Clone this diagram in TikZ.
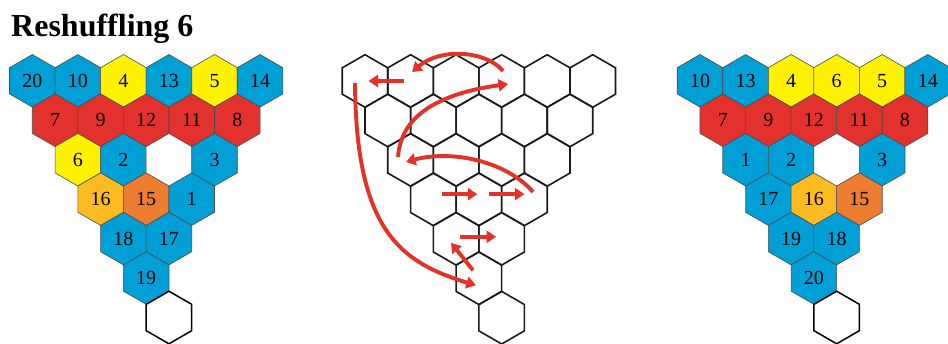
\documentclass[tikz,border=0pt]{standalone}
\usepackage{fontspec}
\setmainfont{Liberation Serif}
\usetikzlibrary{shapes.geometric,arrows.meta,calc}
\definecolor{hblue}{RGB}{0,160,215}
\definecolor{hyellow}{RGB}{255,242,0}
\definecolor{hred}{RGB}{227,50,45}
\definecolor{hgold}{RGB}{252,187,33}
\definecolor{horange}{RGB}{237,125,49}
\definecolor{arrowred}{RGB}{228,50,40}
\begin{document}
\begin{tikzpicture}[x=1pt,y=-1pt,
  hex/.style={regular polygon, regular polygon sides=6, shape border rotate=30,
    minimum size=52.6pt, inner sep=0pt, outer sep=0pt,
    font=\fontsize{20}{20}\selectfont},
  cell/.style={hex, fill=#1, draw=black!70, line width=0.6pt},
  blank/.style={hex, draw=black, line width=1.5pt},
  gridhex/.style={hex, draw=black!90, line width=1.6pt},
  mv/.style={draw=arrowred, line width=3.9pt, -{Triangle[length=9.5pt,width=12pt]}},
  title/.style={anchor=base west, inner sep=0pt, font=\bfseries\fontsize{32}{32}\selectfont}
]
\useasboundingbox (0,0) rectangle (948,343);

\node[title] (ttl) at (11,36.5) {Reshuffling 6};

% ---------- left panel ----------
\foreach \r/\c/\col/\t in {
  0/0/hblue/20, 0/1/hblue/10, 0/2/hyellow/4, 0/3/hblue/13, 0/4/hyellow/5, 0/5/hblue/14,
  1/0/hred/7, 1/1/hred/9, 1/2/hred/12, 1/3/hred/11, 1/4/hred/8,
  2/0/hyellow/6, 2/1/hblue/2, 2/3/hblue/3,
  3/0/hgold/16, 3/1/horange/15, 3/2/hblue/1,
  4/0/hblue/18, 4/1/hblue/17,
  5/0/hblue/19} {
  \node[cell=\col] (l\r\c) at ({32.3+(\c+\r/2)*45.55},{80.8+\r*39.45}) {\t};
}
\node[blank] (l60) at ({32.3+3*45.55},{80.8+6*39.45}) {};

% ---------- middle panel ----------
\foreach \r/\n in {0/5,1/4,2/3,3/2,4/1,5/0} {
  \foreach \c in {0,...,\n} {
    \node[gridhex] (m\r\c) at ({365+(\c+\r/2)*45.55},{81+\r*39.45}) {};
  }
}
\node[gridhex] (m60) at ({365+3*45.55},{81+6*39.45}) {};

% arrows
\draw[mv] ($(m01)+(-7,0)$) -- ($(m00)+(3.5,0)$);
\draw[mv] ($(m03)+(1.5,-10)$) .. controls +(-18,-21) and +(28,-24) .. ($(m01)+(1.5,-9)$);
\draw[mv] ($(m20)+(-12.5,-3)$) .. controls +(3,-47) and +(-58,8) .. ($(m03)+(6.4,3)$);
\draw[mv] ($(m32)+(8.6,-7.4)$) .. controls +(-28,-32) and +(44,-12) .. ($(m20)+(-4.5,2)$);
\draw[mv] ($(m30)+(8.5,-5.2)$) -- ($(m31)+(-1.5,-5.2)$);
\draw[mv] ($(m31)+(10,-5.2)$) -- ($(m32)+(0,-5.2)$);
\draw[mv] ($(m40)+(4,-2)$) -- ($(m41)+(-5.5,-2)$);
\draw[mv] ($(m50)+(-6,-8)$) -- ($(m40)+(-5,4)$);
\draw[mv] ($(m00)+(-10,2)$) .. controls +(1,147) and +(-76,-23) .. ($(m50)+(-3,7)$);

% ---------- right panel ----------
\foreach \r/\c/\col/\t in {
  0/0/hblue/10, 0/1/hblue/13, 0/2/hyellow/4, 0/3/hyellow/6, 0/4/hyellow/5, 0/5/hblue/14,
  1/0/hred/7, 1/1/hred/9, 1/2/hred/12, 1/3/hred/11, 1/4/hred/8,
  2/0/hblue/1, 2/1/hblue/2, 2/3/hblue/3,
  3/0/hblue/17, 3/1/hgold/16, 3/2/horange/15,
  4/0/hblue/19, 4/1/hblue/18,
  5/0/hblue/20} {
  \node[cell=\col] (r\r\c) at ({700+(\c+\r/2)*45.55},{80.8+\r*39.45}) {\t};
}
\node[blank] (r60) at ({700+3*45.55},{80.8+6*39.45}) {};
\end{tikzpicture}
\end{document}
